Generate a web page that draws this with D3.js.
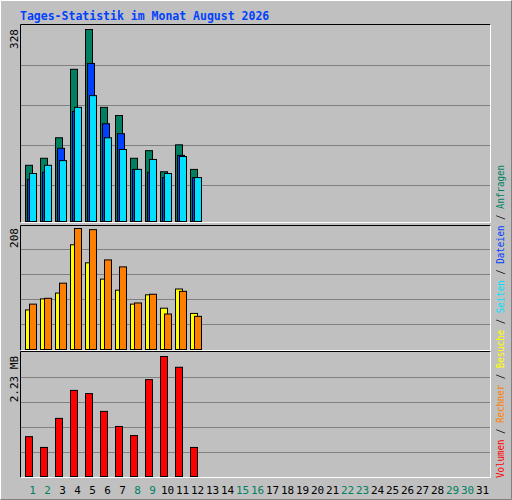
<!DOCTYPE html>
<html><head><meta charset="utf-8">
<script src="https://cdn.jsdelivr.net/npm/d3@7"></script>
<style>body{margin:0;background:#fff}</style></head>
<body><svg id="c" width="512" height="500"></svg>
<script>
const days = d3.range(1,32);
const weekendDays = [1,2,8,9,15,16,22,23,29,30];
const anfragen = [96,108,143,260,328,195,181,108,121,85,131,89];
const dateien  = [72,84,125,188,270,167,150,89,84,75,113,75];
const seiten   = [82,96,104,195,215,143,123,89,106,82,111,75];
const besuche  = [68,87,97,180,149,121,102,78,94,71,104,62];
const rechner  = [78,88,114,208,206,154,142,80,95,61,100,57];
const volumen  = [0.74,0.54,1.08,1.60,1.54,1.21,0.93,0.76,1.80,2.23,2.03,0.54];
const maxLabels = ["328","208","2.23 MB"];
const legend = [["Volumen","#ff0000"],["Rechner","#ff8000"],["Besuche","#ffff00"],["Seiten","#00e0ff"],["Dateien","#0040ff"],["Anfragen","#008060"]];

const svg = d3.select("#c");
const F = "DejaVu Sans Mono, monospace";
svg.append("rect").attr("x",0).attr("y",0).attr("width",512).attr("height",500).attr("fill","#c0c0c0");
svg.append("path").attr("d","M0.5,499.5V0.5H511.5").attr("stroke","#fff").attr("fill","none");
svg.append("path").attr("d","M0.5,499.5H511.5V0.5").attr("stroke","#808080").attr("fill","none");
svg.append("text").attr("x",20).attr("y",20).attr("font-family",F).attr("font-weight","bold")
  .attr("font-size",11.5).attr("fill","#0040ff").text("Tages-Statistik im Monat August 2026");

const x = d3.scaleBand().domain(days).range([21,486]).paddingInner(0);
const panels = [
 {y0:24,y1:222,top:29,max:328,grid:[65,105,145,185]},
 {y0:225,y1:350,top:228,max:208,grid:[249,274,299,324]},
 {y0:351,y1:477,top:356,max:2.23,grid:[377,402,427,452]}
];
panels.forEach((p,i)=>{
  svg.append("path").attr("d",`M20.5,${p.y1+.5}V${p.y0+.5}H490.5`).attr("stroke","#000").attr("fill","none");
  svg.append("path").attr("d",`M20.5,${p.y1+.5}H490.5V${p.y0+.5}`).attr("stroke","#fff").attr("fill","none");
  p.grid.forEach(g=>svg.append("line").attr("x1",21).attr("x2",490).attr("y1",g+.5).attr("y2",g+.5).attr("stroke","#808080"));
  p.ys = d3.scaleLinear().domain([0,p.max]).range([p.y1-1,p.top]);
  svg.append("text").attr("transform",`translate(18,${p.top}) rotate(-90)`).attr("text-anchor","end")
    .attr("font-family",F).attr("font-size",11).attr("fill","#000").text(maxLabels[i]);
});
function bars(data,p,off,color){
  svg.append("g").selectAll("rect").data(data).join("rect")
    .attr("x",(d,i)=>x(i+1)+4+off+.5).attr("width",7)
    .attr("y",d=>p.ys(d)+.5).attr("height",d=>p.y1-1-p.ys(d))
    .attr("fill",color).attr("stroke","#000");
}
bars(anfragen,panels[0],0,"#008060");
bars(dateien,panels[0],2,"#0040ff");
bars(seiten,panels[0],4,"#00e0ff");
bars(besuche,panels[1],0,"#ffff00");
bars(rechner,panels[1],4,"#ff8000");
bars(volumen,panels[2],0,"#ff0000");

svg.append("g").selectAll("text").data(days).join("text")
  .attr("x",d=>x(d)+x.bandwidth()/2+4).attr("y",494).attr("text-anchor","middle")
  .attr("font-family",F).attr("font-size",11)
  .attr("fill",d=>weekendDays.includes(d)?"#008060":"#000").text(d=>d);

const lg = svg.append("text").attr("transform","translate(504,478) rotate(-90)")
  .attr("font-family",F).attr("font-size",10.5)
  .attr("textLength",313).attr("lengthAdjust","spacingAndGlyphs");
legend.forEach(([n,c],i)=>{
  if(i>0) lg.append("tspan").attr("fill","#000").text(" / ");
  lg.append("tspan").attr("fill",c).text(n);
});
</script></body></html>
